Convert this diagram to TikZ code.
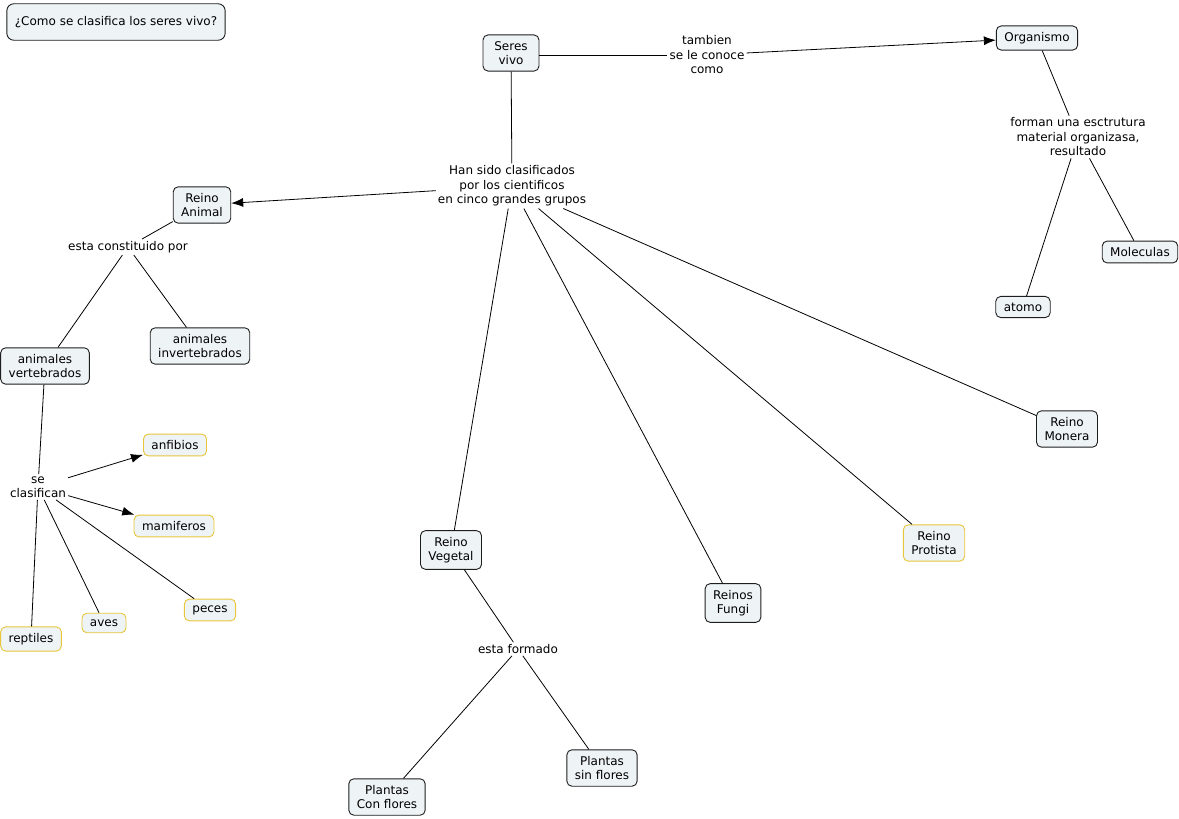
\documentclass[tikz,border=0pt]{standalone}
\usepackage{fontspec}
\setmainfont{DejaVu Sans}
\usetikzlibrary{arrows.meta}
\definecolor{boxfill}{HTML}{EEF3F5}
\definecolor{boxline}{HTML}{1E1E1E}
\definecolor{yel}{HTML}{E8C63C}
\begin{document}
\begin{tikzpicture}[x=1pt,y=-1pt,
  every node/.style={font=\fontsize{12}{14.5}\selectfont, align=center},
  concept/.style={draw=boxline, fill=boxfill, rounded corners=5pt, line width=0.9pt, inner xsep=8pt, inner ysep=6.3pt},
  yconcept/.style={concept, draw=yel},
  lbl/.style={inner sep=2pt},
  link/.style={draw=black, line width=0.8pt},
  arr/.style={link, -{Latex[length=12pt,width=9pt]}}
]
\useasboundingbox (0,0) rectangle (1179,819);
% nodes
\node[concept, inner ysep=12.5pt, rounded corners=7pt] (title) at (116,22) {¿Como se clasifica los seres vivo?};
\node[concept, minimum width=56pt] (seres) at (511,53) {Seres\\vivo};
\node[lbl] (tambien) at (707,55) {tambien\\se le conoce\\como};
\node[concept] (organismo) at (1037,38) {Organismo};
\node[lbl] (forman) at (1078,137) {forman una esctrutura\\material organizasa,\\resultado};
\node[concept] (moleculas) at (1140,252) {Moleculas};
\node[concept] (atomo) at (1023,307) {atomo};
\node[lbl] (han) at (512,186) {Han sido clasificados\\por los cientificos\\en cinco grandes grupos};
\node[concept] (animal) at (202,205) {Reino\\Animal};
\node[lbl] (constituido) at (128,247) {esta constituido por};
\node[concept] (vert) at (45,366) {animales\\vertebrados};
\node[concept] (invert) at (200,346) {animales\\invertebrados};
\node[lbl] (clasifican) at (38,487) {se\\clasifican};
\node[yconcept] (anfibios) at (175,445) {anfibios};
\node[yconcept] (mamiferos) at (174,526) {mamiferos};
\node[yconcept] (reptiles) at (31,639) {reptiles};
\node[yconcept] (aves) at (104,623) {aves};
\node[yconcept] (peces) at (210,610) {peces};
\node[concept] (vegetal) at (451,550) {Reino\\Vegetal};
\node[lbl] (formado) at (518,649) {esta formado};
\node[concept] (conflores) at (387,797) {Plantas\\Con flores};
\node[concept] (sinflores) at (602,768) {Plantas\\sin flores};
\node[concept] (fungi) at (733,603) {Reinos\\Fungi};
\node[yconcept] (protista) at (934,543) {Reino\\Protista};
\node[concept] (monera) at (1067,429) {Reino\\Monera};
% links
\draw[link] (seres.east |- tambien) -- (tambien);
\draw[arr] (tambien) -- (organismo);
\draw[link] (seres) -- (han);
\draw[arr] (han) -- (animal);
\draw[link] (han) -- (vegetal);
\draw[link] (han) -- (fungi);
\draw[link] (han) -- (protista);
\draw[link] (han) -- (monera);
\draw[link] (organismo) -- (forman);
\draw[link] (forman) -- (atomo);
\draw[link] (forman) -- (moleculas);
\draw[link] (animal) -- (constituido);
\draw[link] (constituido) -- (vert);
\draw[link] (constituido) -- (invert);
\draw[link] (vert) -- (clasifican);
\draw[arr] (clasifican) -- (anfibios);
\draw[arr] (clasifican) -- (mamiferos);
\draw[link] (clasifican) -- (reptiles);
\draw[link] (clasifican) -- (aves);
\draw[link] (clasifican) -- (peces);
\draw[link] (vegetal) -- (formado);
\draw[link] (formado) -- (conflores);
\draw[link] (formado) -- (sinflores);
\end{tikzpicture}
\end{document}
